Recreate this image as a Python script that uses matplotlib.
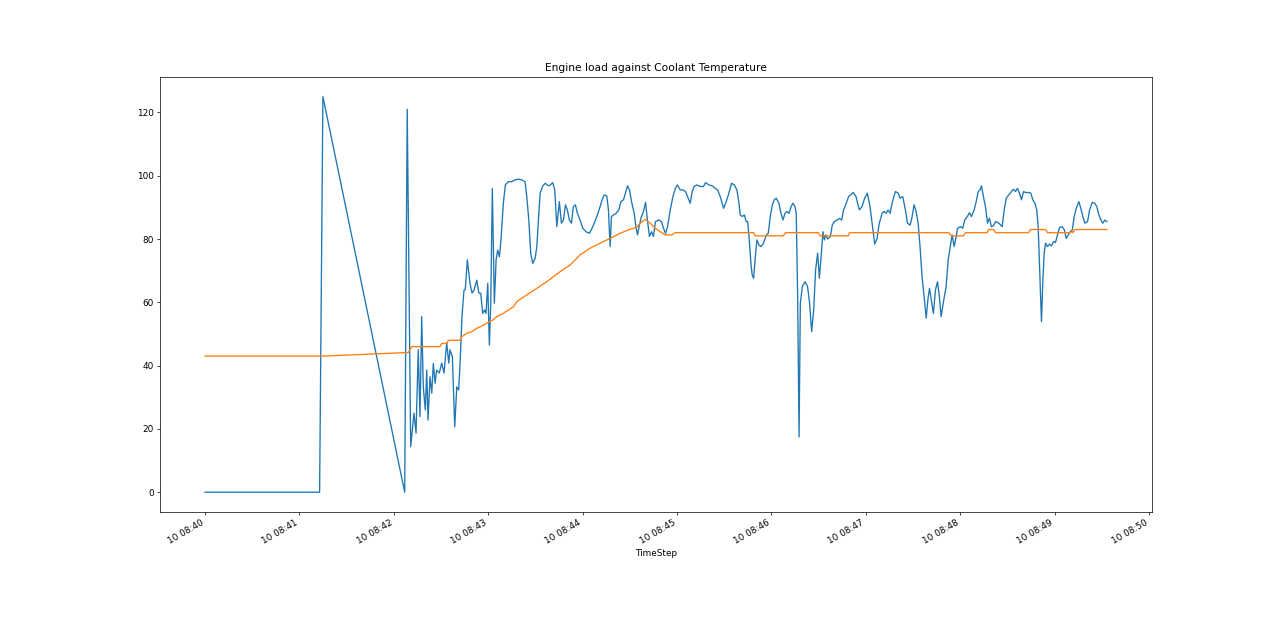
import datetime as dt

import matplotlib

matplotlib.use("Agg")
import matplotlib.pyplot as plt

START = dt.datetime(2021, 6, 10, 8, 40, 0)

# engine load: seconds after 08:40:00, percent
load_sec = [
    0, 72.8, 74.9, 126.9, 128.5, 130.7, 132.8, 134.1, 135.5, 136.6, 137.7, 138.7,
    140.0, 140.9, 141.7, 143.0, 144.1, 145.1, 146.2, 147.2, 148.9, 150.4, 151.9,
    153.6, 154.9, 155.7, 157.2, 158.7, 160.0, 161.2, 162.1, 163.3, 164.6, 165.4,
    166.7, 168.4, 169.7, 171.0, 172.7, 174.0, 175.2, 176.5, 177.8, 178.6, 179.7,
    180.7, 181.6, 182.6, 183.9, 185.0, 186.0, 187.1, 188.1, 189.6, 190.9, 192.8,
    195.0, 197.1, 199.2, 201.3, 203.4, 204.5, 205.8, 207.0, 208.3, 209.8, 210.9,
    211.9, 213.0, 214.7, 216.3, 218.2, 219.3, 221.0, 222.3, 223.6, 225.2, 226.5,
    227.8, 229.1, 230.3, 231.6, 232.9, 234.1, 235.4, 236.7, 238.4, 240.1, 242.2,
    244.3, 246.0, 247.8, 249.4, 251.1, 252.4, 253.7, 255.4, 256.4, 257.5, 258.3,
    259.6, 261.3, 263.0, 264.3, 266.0, 267.2, 268.5, 269.8, 271.1, 272.8, 274.0,
    274.9, 276.1, 277.4, 278.7, 280.0, 281.2, 282.5, 283.8, 285.0, 286.3, 288.5,
    290.1, 291.4, 292.7, 294.0, 295.7, 297.4, 299.0, 300.3, 302.0, 303.8, 305.4,
    307.1, 308.4, 309.7, 310.9, 312.7, 314.8, 316.9, 318.1, 320.3, 322.4, 324.3,
    325.8, 327.5, 329.6, 331.3, 333.0, 334.7, 336.4, 338.1, 339.4, 340.2, 341.5,
    342.8, 344.0, 344.9, 345.7, 347.0, 347.8, 348.7, 349.6, 350.8, 352.1, 353.4,
    355.0, 356.8, 358.0, 359.3, 360.6, 361.8, 363.1, 364.8, 366.1, 367.4, 368.6,
    369.9, 371.2, 372.5, 373.7, 375.0, 375.8, 376.7, 377.6, 378.4, 379.7, 381.4,
    383.0, 384.3, 385.6, 386.9, 388.1, 389.4, 390.5, 391.6, 392.8, 393.7, 394.5,
    395.8, 397.5, 398.7, 400.0, 401.7, 403.4, 404.7, 405.9, 407.2, 409.1, 412.1,
    413.8, 415.9, 417.6, 419.3, 421.0, 422.7, 424.0, 425.7, 427.2, 428.6, 430.4,
    431.6, 432.9, 434.2, 435.5, 436.7, 438.8, 440.6, 441.8, 443.5, 445.2, 446.5,
    448.2, 449.5, 450.7, 452.0, 453.3, 454.5, 455.8, 457.1, 458.4, 459.6, 460.5,
    461.7, 463.0, 464.3, 465.6, 466.8, 467.9, 469.4, 471.1, 472.4, 473.6, 474.9,
    476.2, 477.5, 478.3, 480.4, 481.6, 482.9, 484.6, 485.9, 487.2, 488.9, 490.2,
    491.5, 492.7, 493.6, 494.8, 496.1, 497.4, 498.6, 499.9, 501.2, 502.5, 504.6,
    506.7, 508.0, 509.3, 510.9, 512.6, 513.9, 515.2, 516.5, 517.7, 519.0, 520.3,
    521.5, 523.3, 524.9, 526.2, 527.5, 528.7, 529.6, 530.5, 531.7, 532.6, 533.4,
    534.3, 535.5, 536.8, 538.1, 539.4, 540.6, 541.9, 543.2, 544.9, 546.2, 547.4,
    548.7, 550.0, 551.3, 552.5, 553.8, 555.5, 556.7, 558.0, 559.3, 561.0, 562.3,
    564.0, 565.6, 566.9, 568.2, 569.5, 570.7, 572.0, 573.3,
]
load_val = [
    0, 0, 125, 0, 121, 14.4, 25, 18.7, 45, 23.9, 55.5, 33.3,
    26, 38.6, 22.8, 36.5, 31.3, 40.7, 34.4, 38.6, 37.7, 40.8, 37.7,
    47.2, 40.8, 45, 42.8, 20.7, 33.3, 32.3, 40.8, 55.5, 63.9, 64,
    73.4, 66, 62.9, 63.9, 67, 62.9, 62.9, 56.5, 57.6, 56.5, 66,
    46.5, 59.7, 96, 59.7, 73.4, 76.5, 74.4, 79.7, 91.3, 97.1, 98.1,
    98.1, 98.7, 98.9, 98.7, 98.1, 93.4, 86, 75.5, 72.3, 73.9, 77.6,
    86, 94.5, 96.8, 97.6, 96.8, 97, 97.8, 95.5, 83.9, 91.8, 85,
    86, 90.8, 89.2, 86, 85, 90.2, 90.8, 88.1, 86, 83.4, 82.3,
    81.8, 83.4, 85.5, 87.6, 90.2, 92.4, 93.9, 93.6, 89.2, 77.6, 87.1,
    87.6, 88.1, 89.2, 91.8, 92.4, 94.5, 96.8, 95.5, 91.8, 88.1, 83.4,
    81.3, 84.4, 87.1, 88.7, 91.6, 86, 80.8, 82.3, 80.8, 85.5, 86,
    85.5, 83.4, 81.8, 83.9, 89.2, 93.4, 96, 97.1, 95.5, 95.5, 95,
    92.9, 91.3, 95, 96.6, 97.1, 96.6, 96.6, 97.8, 97.1, 96.8, 96,
    95.5, 93.4, 89.7, 91.8, 94.5, 97.6, 97.1, 95.5, 91.3, 87.6, 87.1,
    87.6, 85.5, 85.5, 81.3, 72.3, 68.6, 67.6, 73.4, 79.7, 78.1, 77.6,
    78.7, 81.3, 81.8, 87.1, 90.8, 92.4, 92.9, 91.3, 88.1, 86, 88.1,
    88.7, 88.1, 90.2, 91.3, 90.2, 88.1, 61.8, 17.5, 59.7, 65, 66.5,
    65, 59.7, 50.7, 57.6, 70.2, 75.5, 67.6, 74.4, 82.3, 79.7, 81.3,
    80, 80.8, 84.4, 85.5, 86, 86.5, 86, 89.2, 90.8, 93.4, 94.7,
    93.4, 89.2, 90.2, 92.9, 94.5, 90.2, 85, 78.4, 80.2, 85, 88.1,
    88.7, 88.1, 89.2, 88.1, 91.3, 95, 94.5, 92.9, 93.4, 89.2, 85,
    84.4, 87.1, 90.8, 88.7, 85, 77.6, 68.1, 61.8, 55, 61.3, 64.4,
    60.7, 56.5, 63.9, 66.5, 61.8, 55.5, 60.2, 65, 73.4, 77.1, 81.3,
    77.6, 80.8, 83.4, 83.9, 83.4, 86, 87.1, 88.3, 87.1, 89.2, 91.8,
    95, 95.5, 96.8, 93.4, 90.2, 85, 86.6, 83.9, 84.2, 85.5, 85,
    83.9, 89.2, 92.9, 93.9, 95, 95.7, 95, 96, 94.5, 92.4, 95,
    94.7, 94.7, 94.5, 92.4, 91.3, 89.2, 83.9, 71.3, 53.9, 67, 75.5,
    78.7, 77.6, 78.4, 77.8, 79.2, 78.9, 81.3, 83.7, 83.9, 82.9, 80.2,
    81.3, 82.3, 82.9, 87.1, 89.7, 91.8, 89.7, 87.1, 85, 85.5, 89.2,
    91.6, 91.3, 90.2, 87.6, 86, 85, 86, 85.5,
]

# coolant temperature: seconds after 08:40:00, deg C
coolant_sec = [
    0, 72.8, 74.9, 126.9, 129.2, 131.3, 149.3, 150.4, 153.8, 154.6, 162.1, 163.1,
    166.3, 169.5, 172.7, 175.9, 179.0, 181.1, 183.2, 185.4, 189.6, 192.8, 196.0,
    198.1, 201.3, 204.5, 207.7, 210.9, 214.0, 217.2, 219.3, 225.7, 232.1, 238.4,
    244.8, 251.1, 257.5, 263.9, 270.2, 274.5, 276.6, 279.8, 283.0, 286.1, 289.3,
    292.5, 296.8, 298.9, 348.7, 349.8, 367.6, 368.9, 389.8, 391.1, 408.9, 409.6,
    472.7, 474.5, 482.1, 483.4, 497.2, 498.0, 501.2, 502.5, 523.5, 524.7, 534.3,
    535.5, 550.2, 551.1, 551.8, 552.7, 573.3,
]
coolant_val = [
    43, 43, 43, 44.1, 44.1, 46, 46, 47, 47, 48, 48, 49.1,
    50.2, 50.7, 51.8, 52.5, 53.4, 54, 54.5, 55.5, 56.5, 57.6, 58.6,
    60.2, 61.3, 62.3, 63.4, 64.4, 65.5, 66.5, 67.3, 69.7, 71.8, 75,
    77.1, 78.7, 80.2, 81.8, 83.1, 83.7, 85, 86.2, 85, 83.4, 82.3,
    81.3, 81.3, 82, 82, 81, 81, 82, 82, 81, 81, 82,
    82, 81, 81, 82, 82, 83, 83, 82, 82, 83, 83,
    82, 82, 82.5, 82, 83, 83,
]

load_time = [START + dt.timedelta(seconds=s) for s in load_sec]
coolant_time = [START + dt.timedelta(seconds=s) for s in coolant_sec]

fig, ax = plt.subplots(figsize=(20, 10), dpi=64)
ax.plot(load_time, load_val)
ax.plot(coolant_time, coolant_val)
ax.set_title("Engine load against Coolant Temperature")
ax.set_xlabel("TimeStep")
fig.autofmt_xdate()
fig.savefig("out.png", dpi=64)
